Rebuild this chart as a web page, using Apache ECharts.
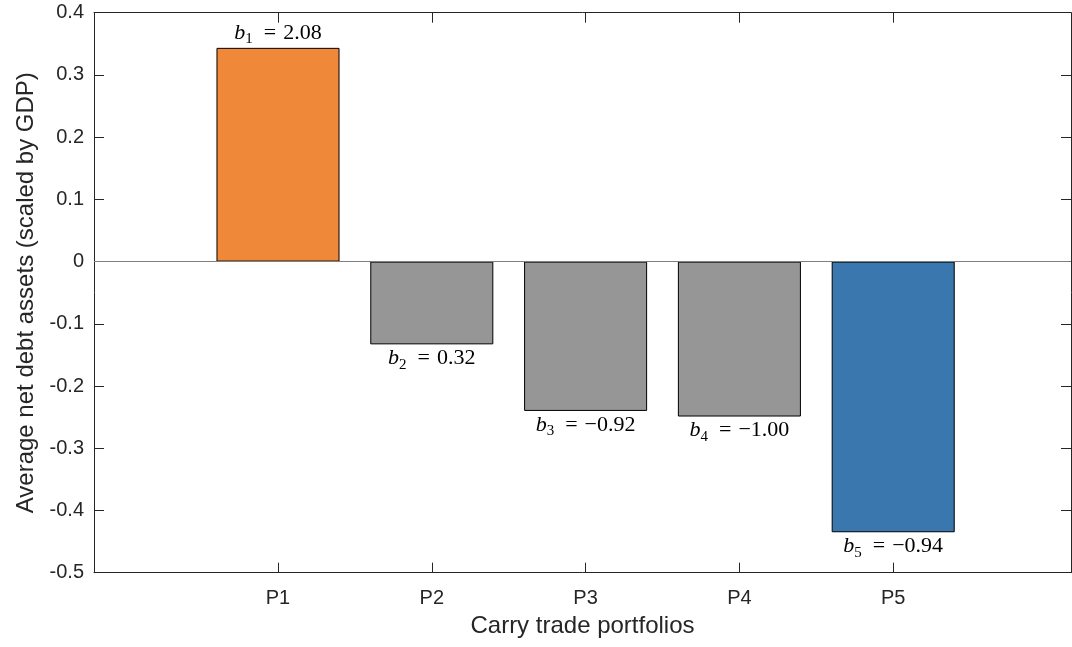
<!DOCTYPE html>
<html>
<head>
<meta charset="utf-8">
<script src="https://cdn.jsdelivr.net/npm/echarts@6/dist/echarts.min.js"></script>
<style>html,body{margin:0;padding:0;background:#fff}#c{width:1072px;height:647px}</style>
</head>
<body>
<div id="c"></div>
<script>
const categories = ['P1', 'P2', 'P3', 'P4', 'P5'];
const values = [0.3435, -0.133, -0.240, -0.249, -0.435];
const coefSubs = ['1', '2', '3', '4', '5'];
const coefTexts = ['2.08', '0.32', '\u22120.92', '\u22121.00', '\u22120.94'];
const barColors = ['#EF8838', '#969696', '#969696', '#969696', '#3B77AF'];
const yTicks = [-0.5, -0.4, -0.3, -0.2, -0.1, 0, 0.1, 0.2, 0.3, 0.4];

(function () {
const axisColor = '#262626';
const frameLeft = 94, frameRight = 1071, plotTop = 12.7, plotBottom = 572.7;
const W = 1072, H = 647;
const step = 153.8, firstCenter = 278;
const innerLeft = firstCenter - step / 2;
const innerRight = innerLeft + step * categories.length;

const chart = echarts.init(document.getElementById('c'), null, {renderer: 'canvas'});

const serif = 'Liberation Serif';
const richStyles = {
  b: {fontFamily: serif, fontStyle: 'italic', fontSize: 22, color: '#000', lineHeight: 24, verticalAlign: 'bottom'},
  s: {fontFamily: serif, fontSize: 15, color: '#000', lineHeight: 24, verticalAlign: 'bottom', padding: [0, 0, -3, 0]},
  e: {fontFamily: serif, fontSize: 22, color: '#000', lineHeight: 24, verticalAlign: 'bottom', padding: [0, 7, 0, 11]},
  t: {fontFamily: serif, fontSize: 22, color: '#000', lineHeight: 24, verticalAlign: 'bottom'}
};

const barData = values.map((v, i) => ({
  value: v,
  itemStyle: {color: barColors[i]},
  label: {
    show: true,
    position: v >= 0 ? 'top' : 'bottom',
    distance: v >= 0 ? 4 : 1,
    formatter: '{b|b}{s|' + coefSubs[i] + '}{e|=}{t|' + coefTexts[i] + '}',
    rich: richStyles
  }
}));

const option = {
  animation: false,
  backgroundColor: '#fff',
  grid: [
    {left: frameLeft, right: W - frameRight, top: plotTop, bottom: H - plotBottom, containLabel: false},
    {left: innerLeft, right: W - innerRight, top: plotTop, bottom: H - plotBottom, containLabel: false}
  ],
  xAxis: [
    {gridIndex: 0, type: 'value', min: 0, max: 1, position: 'bottom',
     axisLine: {show: true, onZero: false, lineStyle: {color: axisColor, width: 1}},
     axisTick: {show: false}, axisLabel: {show: false}, splitLine: {show: false},
     name: 'Carry trade portfolios', nameLocation: 'middle', nameGap: 42,
     nameTextStyle: {fontFamily: 'Liberation Sans', fontSize: 24, color: axisColor}},
    {gridIndex: 0, type: 'value', min: 0, max: 1, position: 'top',
     axisLine: {show: true, onZero: false, lineStyle: {color: axisColor, width: 1}},
     axisTick: {show: false}, axisLabel: {show: false}, splitLine: {show: false}},
    {gridIndex: 1, type: 'category', data: categories, position: 'bottom',
     axisLine: {show: false, onZero: false},
     axisTick: {show: true, inside: true, length: 10, alignWithLabel: true, lineStyle: {color: axisColor}},
     axisLabel: {show: true, margin: 16, fontFamily: 'Liberation Sans', fontSize: 20, color: axisColor},
     splitLine: {show: false}},
    {gridIndex: 1, type: 'category', data: categories, position: 'top',
     axisLine: {show: false, onZero: false},
     axisTick: {show: true, inside: true, length: 10, alignWithLabel: true, lineStyle: {color: axisColor}},
     axisLabel: {show: false}, splitLine: {show: false}}
  ],
  yAxis: [
    {gridIndex: 0, type: 'value', min: yTicks[0], max: yTicks[yTicks.length - 1], interval: 0.1, position: 'left',
     axisLine: {show: true, onZero: false, lineStyle: {color: axisColor}},
     axisTick: {show: true, inside: true, length: 10, lineStyle: {color: axisColor}},
     axisLabel: {show: true, margin: 10, fontFamily: 'Liberation Sans', fontSize: 20, color: axisColor,
       formatter: v => { const r = Math.round(v * 10) / 10; return r === 0 ? '0' : String(r); }},
     splitLine: {show: false},
     name: 'Average net debt assets (scaled by GDP)', nameLocation: 'middle', nameGap: 53, nameRotate: 90,
     nameTextStyle: {fontFamily: 'Liberation Sans', fontSize: 24, color: axisColor}},
    {gridIndex: 0, type: 'value', min: yTicks[0], max: yTicks[yTicks.length - 1], interval: 0.1, position: 'right',
     axisLine: {show: true, onZero: false, lineStyle: {color: axisColor}},
     axisTick: {show: true, inside: true, length: 10, lineStyle: {color: axisColor}},
     axisLabel: {show: false}, splitLine: {show: false}},
    {gridIndex: 1, type: 'value', min: yTicks[0], max: yTicks[yTicks.length - 1], interval: 0.1,
     axisLine: {show: false}, axisTick: {show: false}, axisLabel: {show: false}, splitLine: {show: false}}
  ],
  series: [
    {type: 'line', xAxisIndex: 0, yAxisIndex: 0, data: [], silent: true,
     markLine: {silent: true, symbol: 'none', label: {show: false},
       lineStyle: {color: '#7f7f7f', width: 1, type: 'solid'},
       data: [{yAxis: 0}]}},
    {type: 'bar', xAxisIndex: 2, yAxisIndex: 2, data: barData, barWidth: '80%',
     itemStyle: {borderColor: '#000', borderWidth: 1}}
  ]
};
chart.setOption(option);
})();
</script>
</body>
</html>
